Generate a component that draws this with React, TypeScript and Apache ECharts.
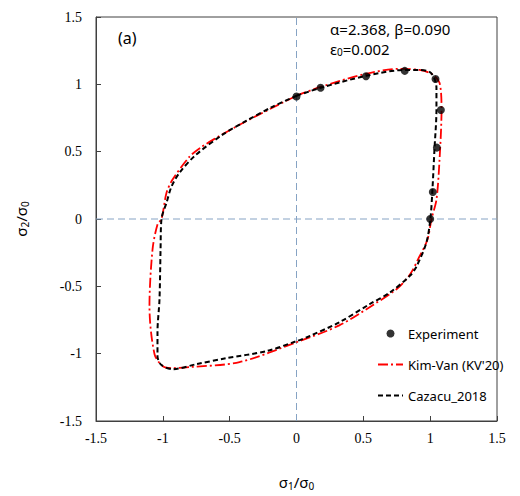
import React, { useEffect, useRef } from "react";
import * as echarts from "echarts";

const xTicks = [-1.5, -1, -0.5, 0, 0.5, 1, 1.5];
const yTicks = [-1.5, -1, -0.5, 0, 0.5, 1, 1.5];

const experimentX = [0, 0.18, 0.52, 0.81, 1.04, 1.08, 1.05, 1.02, 1.0];
const experimentY = [0.91, 0.975, 1.06, 1.1, 1.04, 0.81, 0.53, 0.2, 0.0];

const kimVanX = [0, 0.18, 0.52, 0.77, 0.92, 1.01, 1.07, 1.085, 1.07, 1.047, 1.01, 0.98, 0.92, 0.85, 0.75, 0.57, 0.32, 0, -0.426, -0.8, -0.927, -1.0, -1.062, -1.1, -1.077, -1.04, -1.01, -0.972, -0.927, -0.8, -0.71, -0.613, -0.426, -0.18, 0];
const kimVanY = [0.915, 0.981, 1.078, 1.115, 1.107, 1.078, 1.011, 0.811, 0.44, 0.144, 0.0, -0.152, -0.278, -0.41, -0.52, -0.64, -0.79, -0.915, -1.063, -1.1, -1.107, -1.093, -1.004, -0.648, -0.226, -0.04, 0, 0.196, 0.293, 0.463, 0.535, 0.595, 0.7, 0.826, 0.915];

const cazacuX = [0, 0.18, 0.52, 0.81, 0.92, 0.995, 1.03, 1.047, 1.047, 1.032, 1.017, 1.002, 0.972, 0.898, 0.85, 0.7, 0.546, 0.32, 0.097, 0, -0.224, -0.524, -0.748, -0.927, -1.01, -1.04, -1.04, -1.025, -1.017, -1.01, -0.972, -0.935, -0.875, -0.76, -0.553, -0.374, -0.18, 0];
const cazacuY = [0.915, 0.974, 1.063, 1.107, 1.107, 1.093, 1.048, 0.974, 0.811, 0.515, 0.219, 0.004, -0.174, -0.352, -0.42, -0.545, -0.633, -0.767, -0.87, -0.907, -0.981, -1.033, -1.078, -1.115, -1.085, -1.019, -0.84, -0.596, -0.226, 0, 0.122, 0.241, 0.344, 0.47, 0.626, 0.73, 0.833, 0.915];

const zip = (xs: number[], ys: number[]) => xs.map((x, i) => [x, ys[i]]);

export default function App() {
  const ref = useRef<HTMLDivElement>(null);
  useEffect(() => {
    if (!ref.current) return;
    const chart = echarts.init(ref.current, null, { renderer: "svg" });
    const sans = "'Noto Sans', 'DejaVu Sans', sans-serif";
    const serif = "'Liberation Serif', 'Times New Roman', serif";
    const guide = { color: "#86a3c4", width: 1, type: [7, 4] as any };
    chart.setOption({
      animation: false,
      backgroundColor: "#ffffff",
      grid: {
        left: 96,
        right: 23,
        top: 17,
        bottom: 74,
        show: true,
        borderColor: "#404040",
        borderWidth: 1,
        backgroundColor: "transparent",
      },
      xAxis: {
        type: "value",
        min: xTicks[0],
        max: xTicks[xTicks.length - 1],
        interval: 0.5,
        splitLine: { show: false },
        axisLine: { show: true, onZero: false, lineStyle: { color: "#404040" } },
        axisTick: { show: true, inside: true, length: 5, lineStyle: { color: "#404040" } },
        axisLabel: { fontFamily: serif, fontSize: 14, color: "#000", margin: 10 },
        name: "σ{sub|1}/σ{sub|0}",
        nameLocation: "middle",
        nameGap: 52,
        nameTextStyle: {
          fontFamily: sans,
          fontSize: 15,
          color: "#000",
          rich: { sub: { fontFamily: sans, fontSize: 10, verticalAlign: "bottom", padding: [8, 0, 0, 0] } },
        },
      },
      yAxis: {
        type: "value",
        min: yTicks[0],
        max: yTicks[yTicks.length - 1],
        interval: 0.5,
        splitLine: { show: false },
        axisLine: { show: true, onZero: false, lineStyle: { color: "#404040" } },
        axisTick: { show: true, inside: true, length: 5, lineStyle: { color: "#404040" } },
        axisLabel: { fontFamily: serif, fontSize: 14, color: "#000", margin: 14 },
        name: "σ{sub|2}/σ{sub|0}",
        nameLocation: "middle",
        nameGap: 66,
        nameRotate: 90,
        nameTextStyle: {
          fontFamily: sans,
          fontSize: 15,
          color: "#000",
          rich: { sub: { fontFamily: sans, fontSize: 10, verticalAlign: "bottom", padding: [8, 0, 0, 0] } },
        },
      },
      legend: {
        orient: "vertical",
        left: 372,
        top: 322,
        itemWidth: 25,
        itemHeight: 8,
        itemGap: 18,
        textStyle: { fontFamily: sans, fontSize: 13, color: "#000" },
        data: [
          { name: "Experiment", icon: "circle" },
          { name: "Kim-Van (KV'20)", itemStyle: { opacity: 0 } },
          { name: "Cazacu_2018", itemStyle: { opacity: 0 } },
        ],
      },
      graphic: [
        { type: "text", left: 118, top: 30, style: { text: "(a)", font: `16px ${sans}`, fill: "#000" } },
        {
          type: "text",
          left: 330,
          top: 21,
          style: { text: "α=2.368, β=0.090", font: `15px ${sans}`, fill: "#000" },
        },
        {
          type: "text",
          left: 330,
          top: 41,
          style: {
            text: "ε{sub|0}=0.002",
            font: `15px ${sans}`,
            fill: "#000",
            rich: { sub: { fontSize: 10, fontFamily: sans, fill: "#000", verticalAlign: "bottom", padding: [7, 0, 0, 0] } },
          } as any,
        },
      ],
      series: [
        {
          name: "zeroV",
          type: "line",
          data: [[0, yTicks[0]], [0, yTicks[yTicks.length - 1]]],
          symbol: "none",
          lineStyle: guide,
          silent: true,
          z: 1,
        },
        {
          name: "zeroH",
          type: "line",
          data: [[xTicks[0], 0], [xTicks[xTicks.length - 1], 0]],
          symbol: "none",
          lineStyle: guide,
          silent: true,
          z: 1,
        },
        {
          name: "Kim-Van (KV'20)",
          type: "line",
          data: zip(kimVanX, kimVanY),
          symbol: "none",
          smooth: 0.3,
          lineStyle: { color: "#ff0000", width: 1.8, type: [10, 3, 2, 3] as any },
          itemStyle: { color: "#ff0000" },
          z: 3,
        },
        {
          name: "Cazacu_2018",
          type: "line",
          data: zip(cazacuX, cazacuY),
          symbol: "none",
          smooth: 0.3,
          lineStyle: { color: "#000000", width: 2, type: [5, 3] as any },
          itemStyle: { color: "#000000" },
          z: 4,
        },
        {
          name: "Experiment",
          type: "scatter",
          data: zip(experimentX, experimentY),
          symbol: "circle",
          symbolSize: 8,
          itemStyle: { color: "#000000" },
          z: 5,
        },
      ],
    });
    return () => chart.dispose();
  }, []);
  return (
    <div
      ref={ref}
      style={{ position: "fixed", left: 0, top: 0, width: 520, height: 496 }}
    />
  );
}
